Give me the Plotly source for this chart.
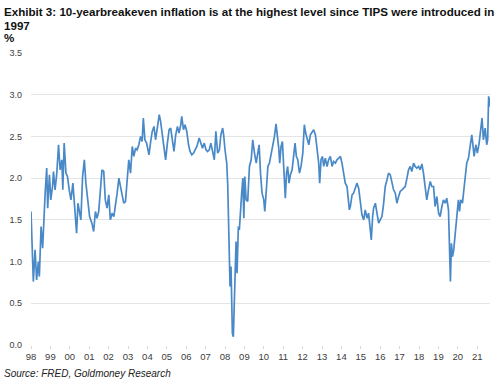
import plotly.graph_objects as go

# Decimal-year positions and breakeven values (%)
years = [
    1998.00, 1998.03, 1998.09, 1998.12, 1998.21, 1998.29, 1998.38, 1998.43, 1998.52, 1998.60,
    1998.73, 1998.81, 1998.86, 1998.95, 1999.02, 1999.11, 1999.16, 1999.24, 1999.33, 1999.42,
    1999.50, 1999.59, 1999.64, 1999.71, 1999.80, 1999.88, 1999.97, 2000.06, 2000.16, 2000.25,
    2000.35, 2000.42, 2000.49, 2000.57, 2000.66, 2000.75, 2000.83, 2000.92, 2001.02, 2001.14,
    2001.23, 2001.32, 2001.40, 2001.49, 2001.58, 2001.66, 2001.75, 2001.83, 2001.92, 2002.01,
    2002.09, 2002.18, 2002.27, 2002.35, 2002.44, 2002.53, 2002.61, 2002.70, 2002.78, 2002.87,
    2002.96, 2003.04, 2003.13, 2003.22, 2003.30, 2003.39, 2003.47, 2003.56, 2003.65, 2003.73,
    2003.79, 2003.87, 2003.96, 2004.08, 2004.17, 2004.25, 2004.34, 2004.42, 2004.51, 2004.61,
    2004.68, 2004.77, 2004.86, 2004.94, 2005.03, 2005.12, 2005.20, 2005.29, 2005.37, 2005.46,
    2005.55, 2005.63, 2005.72, 2005.77, 2005.86, 2005.94, 2006.03, 2006.12, 2006.20, 2006.29,
    2006.38, 2006.46, 2006.55, 2006.67, 2006.76, 2006.84, 2006.93, 2007.02, 2007.10, 2007.19,
    2007.27, 2007.36, 2007.45, 2007.53, 2007.62, 2007.71, 2007.79, 2007.88, 2007.93, 2008.00,
    2008.09, 2008.14, 2008.19, 2008.22, 2008.26, 2008.31, 2008.35, 2008.38, 2008.43, 2008.48,
    2008.52, 2008.57, 2008.62, 2008.69, 2008.74, 2008.79, 2008.86, 2008.92, 2008.97, 2009.02,
    2009.09, 2009.17, 2009.26, 2009.35, 2009.43, 2009.52, 2009.61, 2009.69, 2009.76, 2009.83,
    2009.91, 2010.00, 2010.05, 2010.12, 2010.21, 2010.29, 2010.38, 2010.46, 2010.55, 2010.63,
    2010.69, 2010.77, 2010.82, 2010.89, 2010.96, 2011.03, 2011.11, 2011.17, 2011.23, 2011.30,
    2011.37, 2011.46, 2011.54, 2011.61, 2011.68, 2011.75, 2011.84, 2011.92, 2012.01, 2012.09,
    2012.16, 2012.23, 2012.32, 2012.40, 2012.49, 2012.57, 2012.66, 2012.74, 2012.83, 2012.88,
    2012.95, 2013.02, 2013.09, 2013.17, 2013.26, 2013.34, 2013.43, 2013.52, 2013.60, 2013.69,
    2013.77, 2013.86, 2013.95, 2014.03, 2014.12, 2014.20, 2014.29, 2014.34, 2014.41, 2014.46,
    2014.55, 2014.63, 2014.72, 2014.80, 2014.89, 2014.97, 2015.06, 2015.15, 2015.23, 2015.32,
    2015.40, 2015.49, 2015.54, 2015.61, 2015.66, 2015.75, 2015.83, 2015.92, 2016.00, 2016.09,
    2016.17, 2016.26, 2016.35, 2016.43, 2016.52, 2016.60, 2016.69, 2016.78, 2016.86, 2016.95,
    2017.03, 2017.12, 2017.20, 2017.29, 2017.38, 2017.46, 2017.55, 2017.63, 2017.72, 2017.80,
    2017.89, 2017.98, 2018.06, 2018.15, 2018.23, 2018.32, 2018.40, 2018.49, 2018.58, 2018.66,
    2018.75, 2018.83, 2018.92, 2019.01, 2019.09, 2019.18, 2019.26, 2019.35, 2019.43, 2019.52,
    2019.57, 2019.62, 2019.67, 2019.73, 2019.79, 2019.86, 2019.95, 2020.03, 2020.09, 2020.15,
    2020.24, 2020.29, 2020.38, 2020.46, 2020.55, 2020.63, 2020.72, 2020.77, 2020.84, 2020.93,
    2021.01, 2021.10, 2021.18, 2021.25, 2021.32, 2021.41, 2021.49, 2021.54, 2021.59, 2021.63,
    2021.66,
]
breakeven = [
    1.60, 1.42, 1.02, 0.76, 1.14, 0.78, 1.00, 0.82, 1.42, 1.16,
    1.82, 2.12, 1.64, 2.04, 1.74, 1.90, 2.08, 1.86, 2.06, 2.40,
    2.10, 2.22, 1.86, 2.42, 2.06, 2.02, 1.86, 1.74, 1.94, 1.70,
    1.34, 1.70, 1.62, 1.50, 2.02, 2.22, 1.94, 1.78, 1.54, 1.46,
    1.36, 1.60, 1.52, 1.60, 1.94, 2.10, 2.08, 1.74, 1.64, 1.80,
    1.50, 1.58, 1.54, 1.66, 1.82, 2.00, 1.90, 1.78, 1.70, 1.72,
    2.00, 2.22, 2.06, 2.38, 2.26, 2.36, 2.34, 2.40, 2.50, 2.44,
    2.72, 2.46, 2.42, 2.28, 2.44, 2.56, 2.62, 2.46, 2.60, 2.76,
    2.68, 2.50, 2.34, 2.22, 2.42, 2.58, 2.60, 2.46, 2.32, 2.52,
    2.62, 2.54, 2.64, 2.74, 2.58, 2.64, 2.56, 2.40, 2.32, 2.28,
    2.30, 2.34, 2.38, 2.48, 2.42, 2.36, 2.42, 2.34, 2.32, 2.34,
    2.42, 2.32, 2.22, 2.56, 2.30, 2.34, 2.52, 2.60, 2.52, 2.34,
    2.18, 1.92, 1.42, 1.02, 0.70, 0.94, 0.46, 0.14, 0.10, 0.46,
    0.90, 1.24, 0.86, 1.42, 1.38, 1.52, 1.82, 2.00, 1.52, 2.02,
    1.74, 1.72, 2.14, 2.22, 2.46, 2.30, 2.18, 2.30, 2.40, 2.06,
    1.82, 1.74, 1.60, 1.82, 2.14, 2.18, 2.30, 2.36, 2.50, 2.65,
    2.54, 2.36, 2.18, 2.38, 2.44, 2.10, 1.76, 2.06, 2.14, 1.94,
    2.04, 2.10, 2.28, 2.42, 2.26, 2.22, 2.06, 2.14, 2.30, 2.64,
    2.54, 2.46, 2.40, 2.52, 2.56, 2.58, 2.52, 2.34, 2.18, 1.94,
    2.22, 2.26, 2.14, 2.24, 2.14, 2.22, 2.26, 2.14, 2.20, 2.18,
    2.22, 2.24, 2.26, 2.18, 2.06, 1.94, 1.90, 1.74, 1.62, 1.66,
    1.80, 1.82, 1.90, 1.94, 1.88, 1.70, 1.56, 1.50, 1.62, 1.52,
    1.58, 1.38, 1.26, 1.54, 1.64, 1.70, 1.58, 1.46, 1.50, 1.54,
    1.68, 1.90, 1.98, 2.06, 2.04, 1.96, 1.86, 1.82, 1.70, 1.78,
    1.84, 1.86, 1.88, 1.90, 2.00, 2.10, 2.14, 2.08, 2.18, 2.14,
    2.12, 2.14, 2.10, 2.17, 2.06, 1.90, 1.74, 1.86, 1.96, 1.90,
    1.90, 1.66, 1.78, 1.58, 1.54, 1.66, 1.74, 1.70, 1.76, 1.62,
    1.18, 0.76, 1.22, 1.06, 1.14, 1.30, 1.50, 1.74, 1.60, 1.74,
    1.70, 1.82, 2.06, 2.18, 2.24, 2.36, 2.52, 2.42, 2.26, 2.40,
    2.30, 2.42, 2.62, 2.72, 2.46, 2.60, 2.40, 2.46, 2.98, 2.94,
    2.86,
]

tick_years = list(range(1998, 2022))
tick_labels = ["98", "99", "00", "01", "02", "03", "04", "05", "06", "07", "08", "09",
               "10", "11", "12", "13", "14", "15", "16", "17", "18", "19", "20", "21"]
y_ticks = [0.0, 0.5, 1.0, 1.5, 2.0, 2.5, 3.0, 3.5]

title_line1 = "Exhibit 3: 10-yearbreakeven inflation is at the highest level since TIPS were introduced in"
title_line2 = "1997"
unit_label = "%"
source_text = "Source: FRED, Goldmoney Research"

fig = go.Figure()
fig.add_trace(go.Scatter(
    x=years, y=breakeven, mode="lines",
    line=dict(color="#4a89c8", width=1.7),
    hoverinfo="skip", showlegend=False,
))

FONT = "Liberation Sans, Arial, sans-serif"

fig.update_layout(
    width=500, height=384,
    margin=dict(l=31, r=10, t=53, b=39),
    paper_bgcolor="white", plot_bgcolor="white",
    font=dict(family=FONT, color="#333333"),
    xaxis=dict(
        range=[1998.0, 2021.66],
        tickmode="array", tickvals=tick_years, ticktext=tick_labels,
        showgrid=False, zeroline=False,
        showline=False,
        ticks="outside", ticklen=3, tickcolor="#d9d9d9", tickwidth=1,
        tickfont=dict(size=9.5, color="#404040", family=FONT),
        fixedrange=True,
    ),
    yaxis=dict(
        range=[0, 3.5],
        tickmode="array", tickvals=y_ticks,
        ticktext=[f"{v:.1f}" for v in y_ticks],
        showgrid=True, gridcolor="#e4e4e4", gridwidth=1,
        zeroline=False, showline=False, ticks="",
        tickfont=dict(size=9, color="#404040", family=FONT),
        ticklabelstandoff=8,
        fixedrange=True,
    ),
    annotations=[
        dict(text="<b>" + title_line1 + "</b>", xref="paper", yref="paper",
             x=-29/459, y=1 + (53 - 11)/292, xanchor="left", yanchor="middle",
             showarrow=False, font=dict(size=11.6, color="#111111", family=FONT)),
        dict(text="<b>" + title_line2 + "</b>", xref="paper", yref="paper",
             x=-29/459, y=1 + (53 - 25)/292, xanchor="left", yanchor="middle",
             showarrow=False, font=dict(size=11.6, color="#111111", family=FONT)),
        dict(text="<b>" + unit_label + "</b>", xref="paper", yref="paper",
             x=-29/459, y=1 + (53 - 38)/292, xanchor="left", yanchor="middle",
             showarrow=False, font=dict(size=11.6, color="#111111", family=FONT)),
        dict(text="<i>" + source_text + "</i>", xref="paper", yref="paper",
             x=-29/459, y=-(373 - 345)/292, xanchor="left", yanchor="middle",
             showarrow=False, font=dict(size=10, color="#222222", family=FONT)),
    ],
)

fig.write_html("out.html", config={"displayModeBar": False},
               post_script="document.body.style.margin='0';")
